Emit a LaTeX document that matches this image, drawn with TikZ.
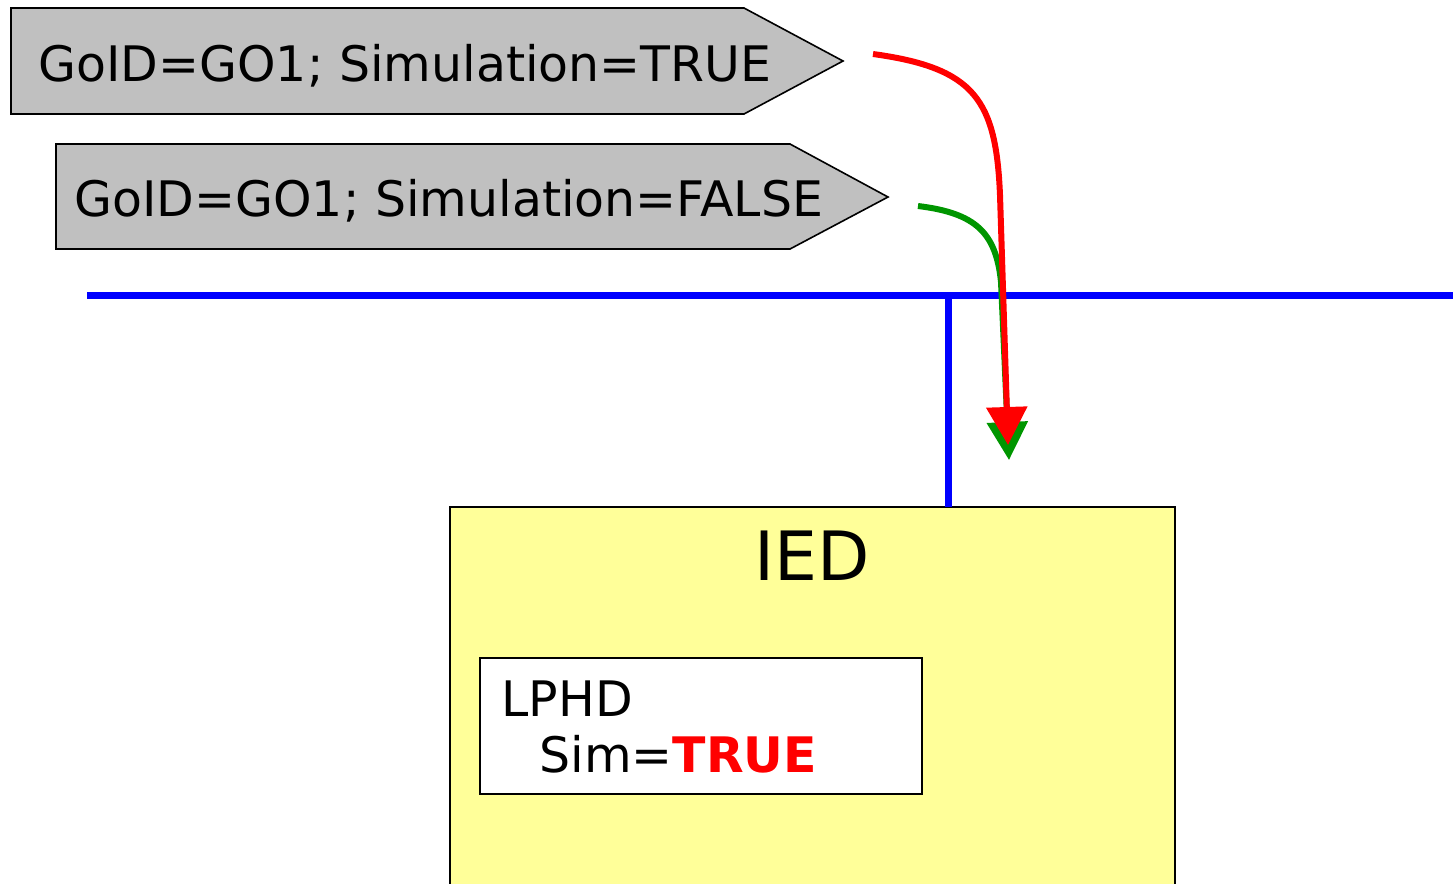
\documentclass[tikz,border=0pt]{standalone}
\usepackage{fontspec}
\setmainfont{DejaVu Sans}
\usetikzlibrary{arrows.meta}

\tikzset{every picture/.style={line width=0.75pt}}
\tikzset{
  telegram/.style={draw=black, line width=1.2pt, fill={rgb, 255:red, 192; green, 192; blue, 192 }},
  msgtext/.style={anchor=base west, inner sep=0.75pt, font=\fontsize{36.7}{43}\selectfont},
  busline/.style={draw={rgb, 255:red, 0; green, 0; blue, 255 }, line width=5.25pt},
  flow/.style={line width=4.5pt, -{Triangle[width=30pt,length=28.5pt]}},
}

\begin{document}
\begin{tikzpicture}[x=0.75pt,y=0.75pt,yscale=-1,xscale=1]
\useasboundingbox (0,0) rectangle (1453,883);
\clip (0,0) rectangle (1453,883);

%Shape: Pentagon [id:telegram sim true]
\draw [telegram] (11,8) -- (744,8) -- (843,61) -- (744,114) -- (11,114) -- cycle ;
%Shape: Pentagon [id:telegram sim false]
\draw [telegram] (56,144) -- (790,144) -- (888,197) -- (790,249) -- (56,249) -- cycle ;

% Text Node
\draw (37,81) node [msgtext] (msgtrue) {GoID=GO1; Simulation=TRUE};
% Text Node
\draw (73,216) node [msgtext] (msgfalse) {GoID=GO1; Simulation=FALSE};

%Shape: Rectangle [id:ied]
\draw [line width=1.2pt, fill={rgb, 255:red, 255; green, 255; blue, 153 }] (450,507) rectangle (1175,900) ;
% Text Node
\draw (812,580) node [anchor=base, inner sep=0.75pt, font=\fontsize{51}{60}\selectfont] (iedlabel) {IED};

%Shape: Rectangle [id:lphd]
\draw [line width=1.2pt, fill=white] (480,658) rectangle (922,794) ;
% Text Node
\draw (500,716) node [msgtext] (lphd) {LPHD};
% Text Node
\draw (538,772) node [msgtext] (simval) {Sim=\textcolor{red}{\textbf{TRUE}}};

%Straight Lines [id:station bus]
\draw [busline] (87,295) -- (1453,295) ;
%Straight Lines [id:ied drop]
\coordinate (busjoin) at (948,295);
\coordinate (iedtop) at (948,507);
\draw [busline] (busjoin) -- (iedtop) ;

% arrow ends
\coordinate (falsestart) at (918,206);
\coordinate (falseend) at (1009,460);
\coordinate (truestart) at (873,54);
\coordinate (trueend) at (1008,445);

%Curve Lines [id:false goose]
\draw [flow, color={rgb, 255:red, 0; green, 150; blue, 0 }] (falsestart) .. controls (975,213) and (996,232) .. (1001,282) -- (falseend) ;
%Curve Lines [id:true goose]
\draw [flow, color={rgb, 255:red, 255; green, 0; blue, 0 }] (truestart) .. controls (975,68) and (996,100) .. (1000,195) -- (trueend) ;

\end{tikzpicture}
\end{document}
